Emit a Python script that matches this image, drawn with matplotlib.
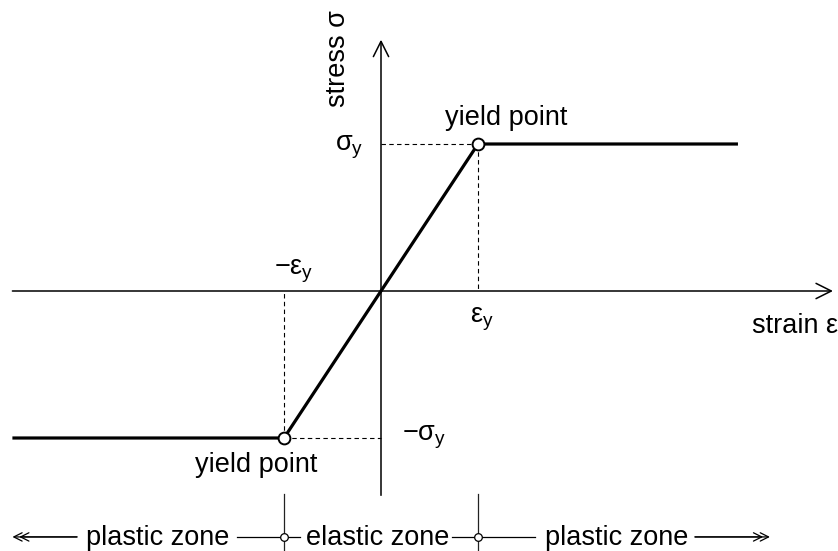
import matplotlib
matplotlib.use("Agg")
import matplotlib.pyplot as plt
from matplotlib.patches import FancyArrowPatch

plt.rcParams['font.family'] = ['Liberation Sans', 'DejaVu Sans']
plt.rcParams['mathtext.fontset'] = 'custom'
plt.rcParams['mathtext.rm'] = 'Liberation Sans'
plt.rcParams['mathtext.it'] = 'Liberation Sans'
plt.rcParams['mathtext.bf'] = 'Liberation Sans:bold'

# yield values (normalised)
eps_y = 1.0
sig_y = 1.0

# elastic-perfectly-plastic curve
strain = [-3.80, -eps_y, eps_y, 3.68]
stress = [-sig_y, -sig_y, sig_y, sig_y]

# axis extents
x_axis = [-3.80, 4.66]
y_axis = [-1.39, 1.71]

# zone bar under the diagram
zone_y = -1.673
zone_bounds = [-eps_y, eps_y]
zone_labels = ['plastic zone', 'elastic zone', 'plastic zone']
zone_label_x = [-2.30, -0.03, 2.43]
zone_lines = [(-3.134, -3.80), (-1.485, -eps_y), (-eps_y, -0.835),
              (0.73, eps_y), (eps_y, 1.59), (3.237, 4.01)]

fig = plt.figure(figsize=(8.38, 5.51), dpi=100)
ax = fig.add_axes([0, 0, 1, 1])
ax.set_xlim(-381 / 97, (838 - 381) / 97)
ax.set_ylim((291 - 551) / 147, 291 / 147)
ax.axis('off')

fs = 19.5


def arrow(x0, y0, x1, y1, lw=1.1, hl=11, hw=5.5, color='black'):
    a = FancyArrowPatch((x0, y0), (x1, y1),
                        arrowstyle='->,head_length=%g,head_width=%g' % (hl, hw),
                        mutation_scale=1, lw=lw, color=color,
                        shrinkA=0, shrinkB=0, joinstyle='miter')
    ax.add_patch(a)


# axes with open arrow heads
arrow(x_axis[0], 0, x_axis[1], 0)
arrow(0, y_axis[0], 0, y_axis[1])

# dashed helper lines
ax.plot([0, eps_y], [sig_y, sig_y], color='black', lw=0.8, dashes=(4, 3))
ax.plot([eps_y, eps_y], [sig_y, 0], color='black', lw=0.8, dashes=(4, 3))
ax.plot([-eps_y, 0], [-sig_y, -sig_y], color='black', lw=0.8, dashes=(4, 3))
ax.plot([-eps_y, -eps_y], [-sig_y, 0], color='black', lw=0.8, dashes=(4, 3))

# stress-strain curve
ax.plot(strain, stress, color='black', lw=2.3, solid_capstyle='butt', zorder=3)
ax.plot([-eps_y, eps_y], [-sig_y, sig_y], 'o', ms=8.5, mfc='white',
        mec='black', mew=1.4, zorder=4)

# labels
ax.text(-0.37, 1.578, 'stress σ', fontsize=fs, rotation=90,
        rotation_mode='anchor', ha='center', va='baseline')
ax.text(3.825, -0.286, 'strain ε', fontsize=fs, ha='left', va='baseline')
ax.text(-0.18, 0.959, r'$\sigma_{\mathrm{y}}$', fontsize=fs, ha='right', va='baseline')
ax.text(0.216, -1.014, r'$-\sigma_{\mathrm{y}}$', fontsize=fs, ha='left', va='baseline')
ax.text(1.036, -0.211, r'$\varepsilon_{\mathrm{y}}$', fontsize=fs, ha='center', va='baseline')
ax.text(-0.902, 0.109, r'$-\varepsilon_{\mathrm{y}}$', fontsize=fs, ha='center', va='baseline')
ax.text(1.289, 1.129, 'yield point', fontsize=fs, ha='center', va='baseline')
ax.text(-1.289, -1.231, 'yield point', fontsize=fs, ha='center', va='baseline')

# zone bar
for xb in zone_bounds:
    ax.plot([xb, xb], [-1.381, -1.80], color='#222222', lw=0.9)
for x0, x1 in zone_lines[1:5]:
    ax.plot([x0, x1], [zone_y, zone_y], color='black', lw=0.9)
ax.plot(zone_bounds, [zone_y, zone_y], 'o', ms=5.5, mfc='white', mec='black',
        mew=0.9, zorder=4)
# double arrow heads at both ends
x0, x1 = zone_lines[0]
arrow(x0, zone_y, x1, zone_y, lw=0.9, hl=6, hw=3, color='black')
arrow(x0, zone_y, x1 + 0.07, zone_y, lw=0.9, hl=6, hw=3, color='black')
x0, x1 = zone_lines[5]
arrow(x0, zone_y, x1, zone_y, lw=0.9, hl=6, hw=3, color='black')
arrow(x0, zone_y, x1 - 0.07, zone_y, lw=0.9, hl=6, hw=3, color='black')
for lab, lx in zip(zone_labels, zone_label_x):
    ax.text(lx, -1.728, lab, fontsize=fs, ha='center', va='baseline')

fig.savefig('out.png', dpi=100)
